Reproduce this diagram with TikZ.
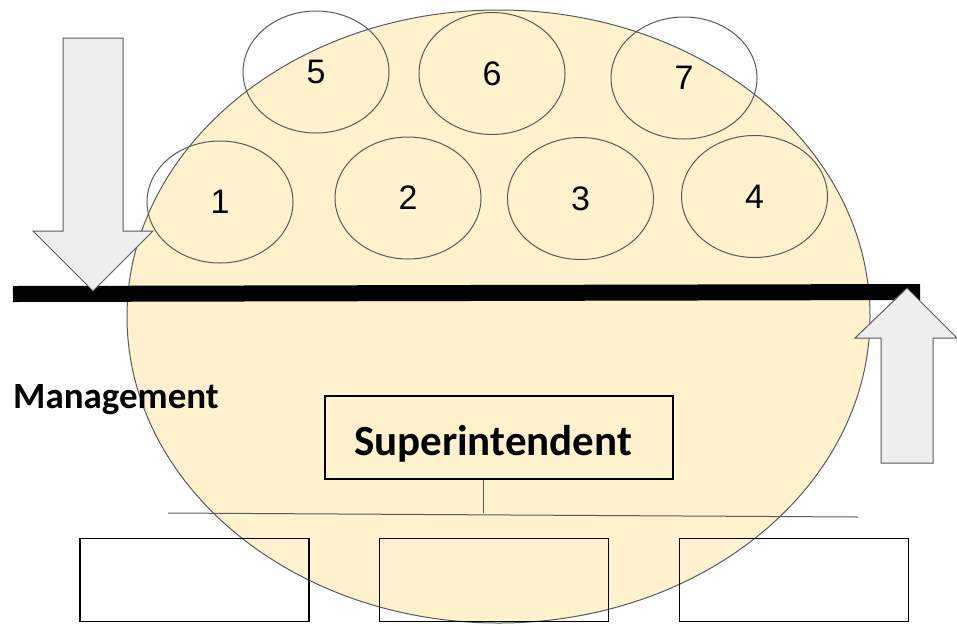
\documentclass[tikz,border=0pt]{standalone}
\usepackage{fontspec}
\setmainfont{Liberation Sans}
\newfontfamily\calfont{Carlito}
\usetikzlibrary{shapes.geometric,positioning}

\definecolor{crewyellow}{HTML}{FFF2CC}
\definecolor{rimgray}{HTML}{595959}
\definecolor{arrowgray}{HTML}{EEEEEE}

\begin{document}
\begin{tikzpicture}[x=1pt,y=-1pt,line join=miter,
    crew/.style={ellipse,draw=rimgray,line width=1pt,minimum width=146pt,minimum height=122pt,
      inner sep=0pt,font=\fontsize{34}{34}\selectfont},
    slot/.style={draw=black,line width=1.2pt,minimum width=229pt,minimum height=83pt,inner sep=0pt},
    blockarrow/.style={draw=rimgray,fill=arrowgray,line width=1pt}]

    \useasboundingbox (0,0) rectangle (957,625);

    \node[ellipse,draw=rimgray,fill=crewyellow,line width=1pt,inner sep=0pt,
          minimum width=743pt,minimum height=613pt] (site) at (498.5,316.5) {};

    \node[crew] (e1) at (220,202) {1};
    \node[crew] (e2) at (408,198) {2};
    \node[crew] (e3) at (580.5,198.5) {3};
    \node[crew] (e4) at (754.5,196.5) {4};
    \node[crew] (e5) at (316,72) {5};
    \node[crew] (e6) at (492,73.5) {6};
    \node[crew] (e7) at (684,78) {7};

    % the line
    \coordinate (barl) at (13,294);
    \coordinate (barr) at (920,292);
    \draw[line width=16pt] (barl) -- (barr);

    \draw[blockarrow] (63,38) -- (123,38) -- (123,231) -- (153,231) -- (93,291)
                      -- (33,231) -- (63,231) -- cycle;
    \draw[blockarrow] (881,463) -- (881,338) -- (855,338) -- (907,288) -- (957,338)
                      -- (933,338) -- (933,463) -- cycle;

    \node[font=\calfont\bfseries\fontsize{37}{37}\selectfont,anchor=base west,inner sep=0pt]
        (mgmt) at (13,408) {Management};

    \node[draw=black,line width=1.2pt,minimum width=348pt,minimum height=83pt,inner sep=0pt,
          text width=348pt,text height=35pt,text depth=0pt,align=left,
          font=\calfont\bfseries\fontsize{43}{43}\selectfont]
        (supt) at (499,437.5) {\hspace{29pt}Superintendent};

    \coordinate (rowl) at (168,513);
    \coordinate (rowr) at (858,517);
    \draw[rimgray,line width=1pt] (rowl) -- (rowr);
    \draw[rimgray,line width=1pt] (supt.south) ++(-16,0) coordinate (drop) -- (drop |- rowl);

    \node[slot] (b1) at (194.5,580) {};
    \node[slot] (b2) [right=69.5pt of b1] {};
    \node[slot] (b3) [right=69.5pt of b2] {};
\end{tikzpicture}
\end{document}
